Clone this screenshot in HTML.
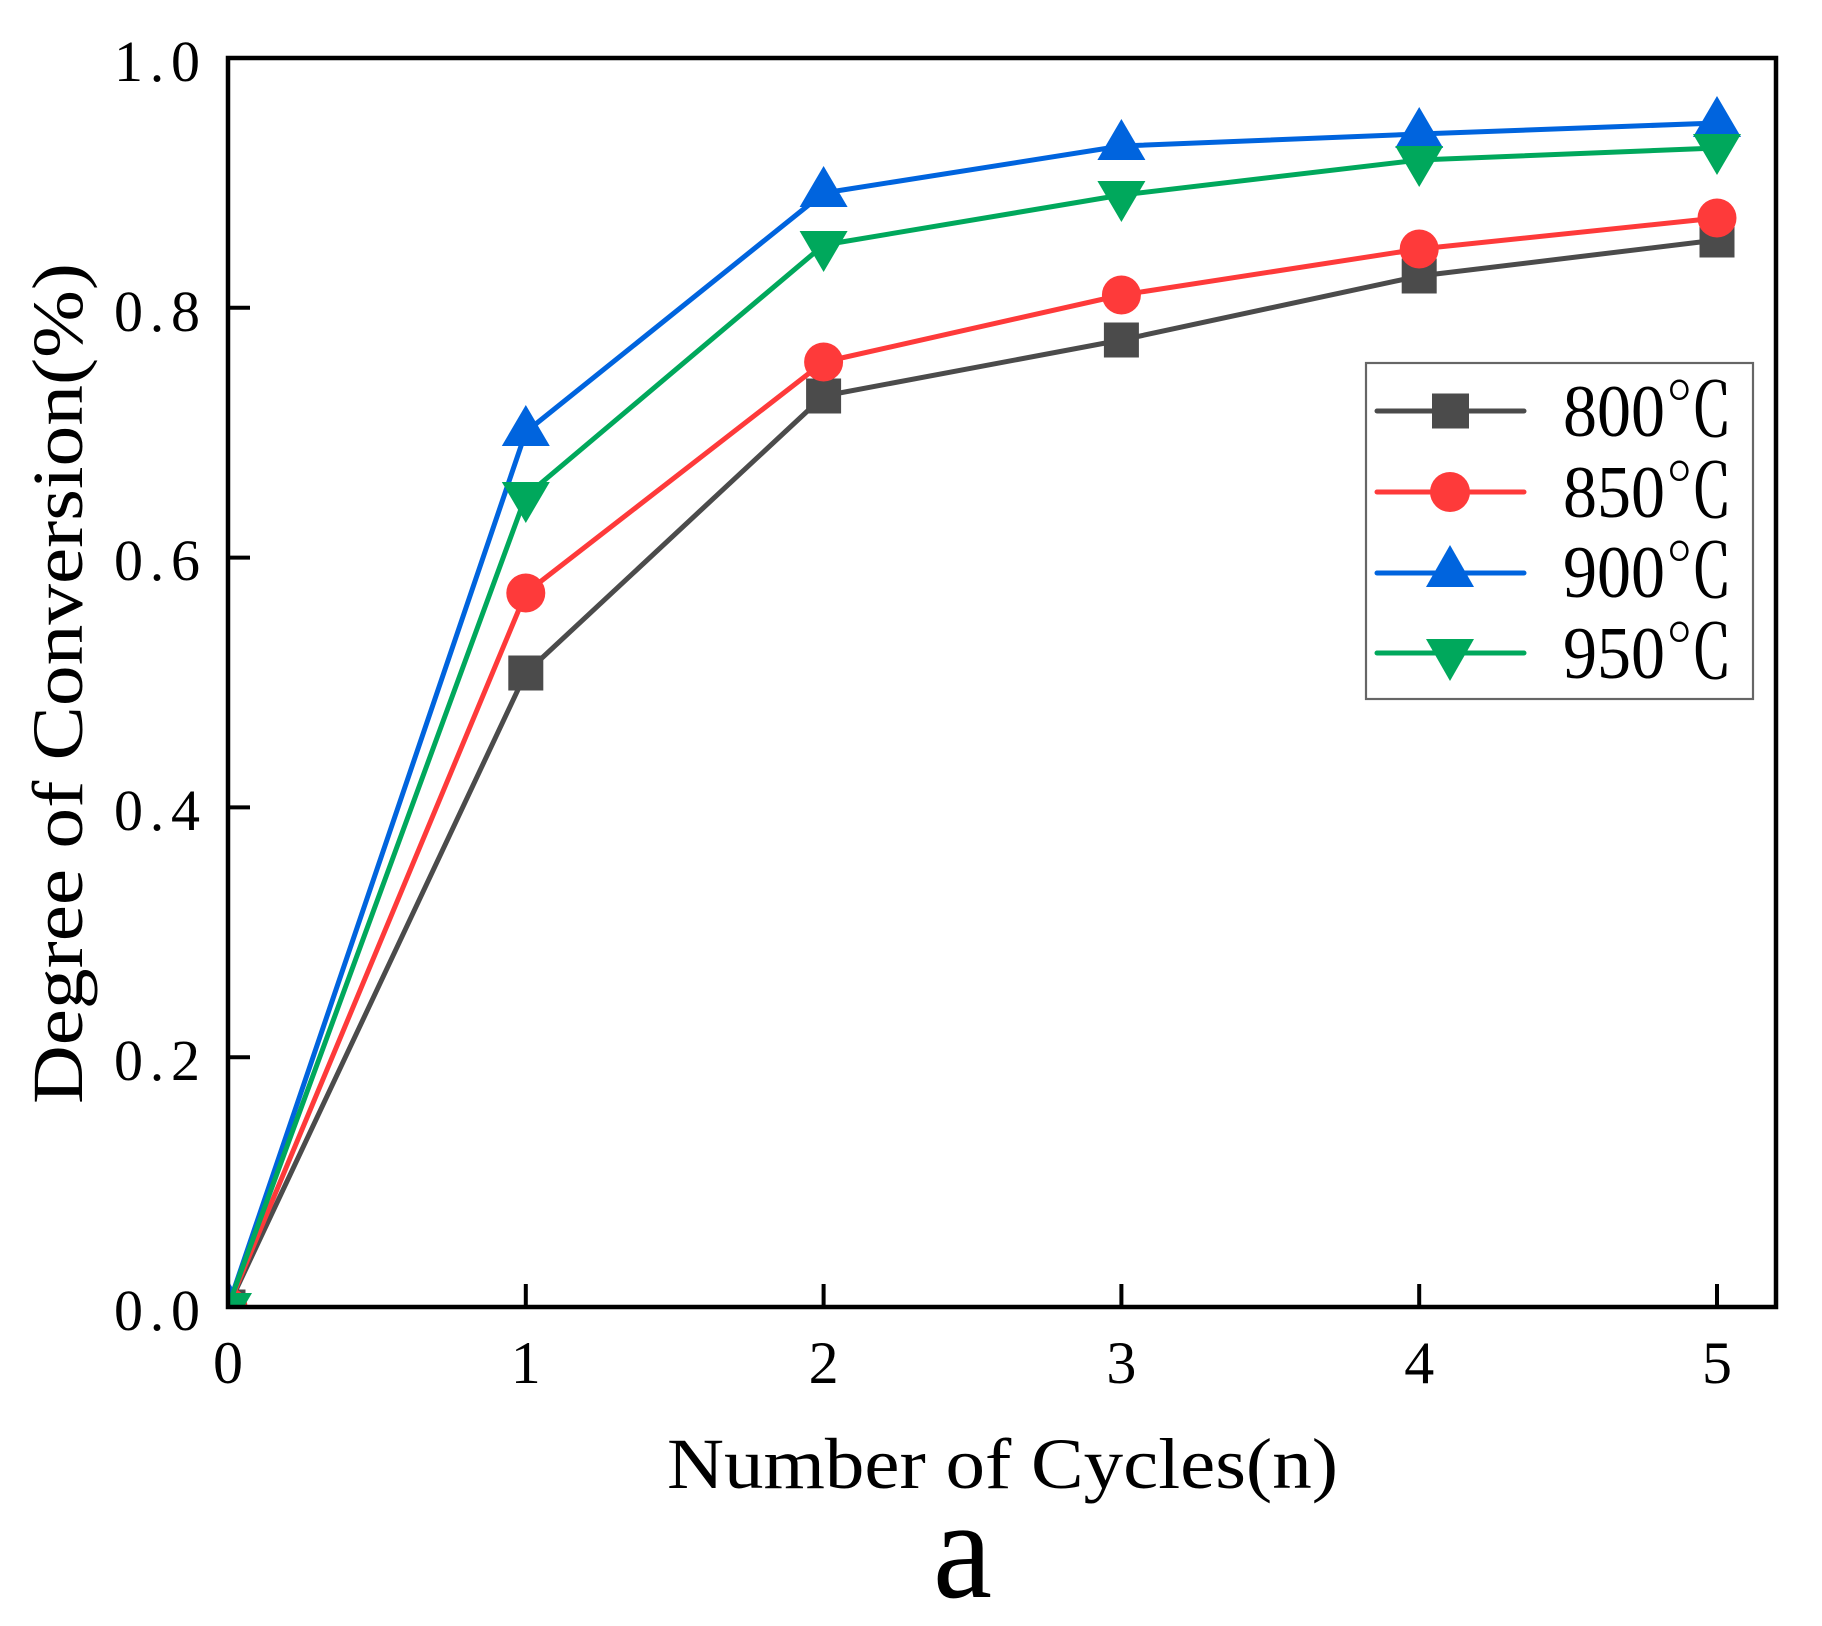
<!DOCTYPE html>
<html>
<head>
<meta charset="utf-8">
<style>
html,body{margin:0;padding:0;background:#fff;}
svg{display:block;}
text{font-family:"Liberation Serif","Noto Serif CJK SC",serif;fill:#000;}
</style>
</head>
<body>
<svg width="1822" height="1626" viewBox="0 0 1822 1626" xmlns="http://www.w3.org/2000/svg">
<defs>
<clipPath id="pc"><rect x="228" y="58" width="1548" height="1249"/></clipPath>
</defs>
<rect width="1822" height="1626" fill="#fff"/>

<g clip-path="url(#pc)">
<!-- 800 -->
<polyline fill="none" stroke="#4b4b4b" stroke-width="5" stroke-linejoin="round" points="228,1307 525.8,673 823.6,396 1121.4,340 1419.2,276 1717,240"/>
<g fill="#4b4b4b">
<rect x="210.5" y="1289.5" width="35" height="35"/>
<rect x="508.3" y="655.5" width="35" height="35"/>
<rect x="806.1" y="378.5" width="35" height="35"/>
<rect x="1103.9" y="322.5" width="35" height="35"/>
<rect x="1401.7" y="258.5" width="35" height="35"/>
<rect x="1699.5" y="222.5" width="35" height="35"/>
</g>
<!-- 850 -->
<polyline fill="none" stroke="#fe3a3a" stroke-width="5" stroke-linejoin="round" points="228,1307 525.8,593 823.6,362 1121.4,295 1419.2,249 1717,218"/>
<g fill="#fe3a3a">
<circle cx="228" cy="1307" r="19.5"/>
<circle cx="525.8" cy="593" r="19.5"/>
<circle cx="823.6" cy="362" r="19.5"/>
<circle cx="1121.4" cy="295" r="19.5"/>
<circle cx="1419.2" cy="249" r="19.5"/>
<circle cx="1717" cy="218" r="19.5"/>
</g>
<!-- 900 -->
<polyline fill="none" stroke="#0064de" stroke-width="5" stroke-linejoin="round" points="228,1307 525.8,432 823.6,193 1121.4,146 1419.2,134 1717,123"/>
<g fill="#0064de">
<polygon points="228,1280 252,1321 204,1321"/>
<polygon points="525.8,405 549.8,446 501.8,446"/>
<polygon points="823.6,166 847.6,207 799.6,207"/>
<polygon points="1121.4,119 1145.4,160 1097.4,160"/>
<polygon points="1419.2,107 1443.2,148 1395.2,148"/>
<polygon points="1717,96 1741,137 1693,137"/>
</g>
<!-- 950 -->
<polyline fill="none" stroke="#00a85c" stroke-width="5" stroke-linejoin="round" points="228,1307 525.8,496 823.6,245 1121.4,195 1419.2,160 1717,148"/>
<g fill="#00a85c">
<polygon points="204,1293 252,1293 228,1334"/>
<polygon points="501.8,482 549.8,482 525.8,523"/>
<polygon points="799.6,231 847.6,231 823.6,272"/>
<polygon points="1097.4,181 1145.4,181 1121.4,222"/>
<polygon points="1395.2,146 1443.2,146 1419.2,187"/>
<polygon points="1693,134 1741,134 1717,175"/>
</g>
</g>

<!-- axes frame -->
<rect x="228" y="58" width="1548" height="1249" fill="none" stroke="#000" stroke-width="4.5"/>
<!-- y ticks -->
<g stroke="#000" stroke-width="4">
<line x1="228" y1="1057.2" x2="250" y2="1057.2"/>
<line x1="228" y1="807.4" x2="250" y2="807.4"/>
<line x1="228" y1="557.6" x2="250" y2="557.6"/>
<line x1="228" y1="307.8" x2="250" y2="307.8"/>
<!-- x ticks -->
<line x1="525.8" y1="1307" x2="525.8" y2="1284"/>
<line x1="823.6" y1="1307" x2="823.6" y2="1284"/>
<line x1="1121.4" y1="1307" x2="1121.4" y2="1284"/>
<line x1="1419.2" y1="1307" x2="1419.2" y2="1284"/>
<line x1="1717" y1="1307" x2="1717" y2="1284"/>
</g>

<!-- y tick labels -->
<g font-size="58" text-anchor="end">
<text x="200" y="1330" textLength="86" lengthAdjust="spacing">0.0</text>
<text x="200" y="1080" textLength="86" lengthAdjust="spacing">0.2</text>
<text x="200" y="830" textLength="86" lengthAdjust="spacing">0.4</text>
<text x="200" y="580" textLength="86" lengthAdjust="spacing">0.6</text>
<text x="200" y="331" textLength="86" lengthAdjust="spacing">0.8</text>
<text x="200" y="81" textLength="86" lengthAdjust="spacing">1.0</text>
</g>
<!-- x tick labels -->
<g font-size="60" text-anchor="middle">
<text x="228" y="1383">0</text>
<text x="525.8" y="1383">1</text>
<text x="823.6" y="1383">2</text>
<text x="1121.4" y="1383">3</text>
<text x="1419.2" y="1383">4</text>
<text x="1717" y="1383">5</text>
</g>

<!-- axis titles -->
<text x="667" y="1488" font-size="72" textLength="671" lengthAdjust="spacingAndGlyphs">Number of Cycles(n)</text>
<text transform="translate(82,683.5) rotate(-90)" x="0" y="0" font-size="72" text-anchor="middle" textLength="841" lengthAdjust="spacingAndGlyphs">Degree of Conversion(%)</text>
<text x="933" y="1597" font-size="142" textLength="59" lengthAdjust="spacingAndGlyphs">a</text>

<!-- legend -->
<rect x="1366" y="363" width="387" height="336" fill="#fff" stroke="#666" stroke-width="2.2"/>
<line x1="1377" y1="411" x2="1524" y2="411" stroke="#4b4b4b" stroke-width="5" stroke-linecap="round"/>
<rect x="1432" y="393.5" width="37" height="35" fill="#4b4b4b"/>
<line x1="1377" y1="492" x2="1524" y2="492" stroke="#fe3a3a" stroke-width="5" stroke-linecap="round"/>
<circle cx="1450" cy="492" r="20" fill="#fe3a3a"/>
<line x1="1377" y1="573" x2="1524" y2="573" stroke="#0064de" stroke-width="5" stroke-linecap="round"/>
<polygon points="1450,545 1474,587 1426,587" fill="#0064de"/>
<line x1="1377" y1="653" x2="1524" y2="653" stroke="#00a85c" stroke-width="5" stroke-linecap="round"/>
<polygon points="1426,639 1474,639 1450,681" fill="#00a85c"/>
<g font-size="74">
<text x="1563" y="436" textLength="170" lengthAdjust="spacingAndGlyphs">800℃</text>
<text x="1563" y="517" textLength="170" lengthAdjust="spacingAndGlyphs">850℃</text>
<text x="1563" y="597" textLength="170" lengthAdjust="spacingAndGlyphs">900℃</text>
<text x="1563" y="678" textLength="170" lengthAdjust="spacingAndGlyphs">950℃</text>
</g>
</svg>
</body>
</html>
